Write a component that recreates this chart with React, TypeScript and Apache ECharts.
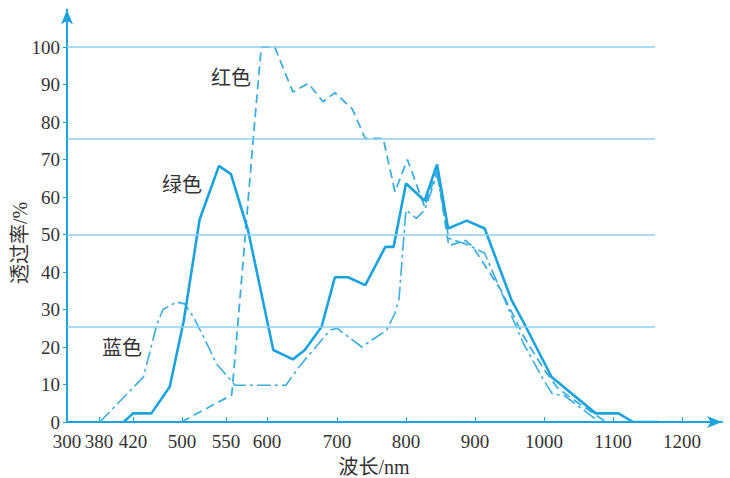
import React, { useEffect, useRef } from "react";
import * as echarts from "echarts";

// x tick labels (wavelength, nm) and their positions along the hand-drawn, non-uniform axis (px from y axis)
const X_TICKS = [300, 380, 420, 500, 550, 600, 700, 800, 900, 1000, 1100, 1200];
const X_TICK_OFFSETS = [0, 32, 66, 115, 159, 200, 270, 339, 408, 477, 546, 615];
const Y_TICKS = [0, 10, 20, 30, 40, 50, 60, 70, 80, 90, 100];
const REF_LINES = [100, 75.5, 50, 25.5];
const REF_LINE_END_WL = 1161;

// [wavelength nm, transmittance %]
const GREEN: [number, number][] = [
  [409, 0], [420, 2.3], [450, 2.3], [480, 9.4], [502, 27], [520, 54], [542, 68.3], [556, 66.1],
  [577, 51], [609, 19.2], [637, 16.7], [654, 19.2], [678, 25.4], [697, 38.6], [716, 38.6],
  [741, 36.5], [770, 46.7], [782, 46.7], [800, 63.6], [827, 59], [845, 68.7], [861, 51.6],
  [888, 53.7], [914, 51.6], [953, 32.5], [972, 26], [1011, 12], [1075, 2.3], [1108, 2.3],
  [1129, 0], [1165, 0],
];
const RED: [number, number][] = [
  [499, 0], [511, 1.5], [557, 7.2], [569, 38], [583, 75], [593, 100], [611, 100], [637, 88],
  [659, 90.3], [680, 85.4], [697, 87.8], [722, 83.5], [741, 75.6], [767, 75.6], [784, 61.4],
  [802, 70], [827, 57.4], [845, 67], [862, 47], [886, 48.4], [897, 46.7], [938, 35], [970, 23],
  [1000, 14], [1020, 9], [1050, 5], [1090, 0],
];
const BLUE: [number, number][] = [
  [381, 0], [437, 12], [459, 26], [469, 30], [491, 32], [503, 31.5], [513, 28], [526, 22],
  [539, 15.6], [561, 9.8], [627, 9.8], [647, 15], [690, 24.5], [700, 25], [736, 20], [772, 24.5],
  [784, 29], [790, 33], [795, 45], [800, 56.5], [815, 54.3], [827, 56.5], [845, 66], [862, 49],
  [886, 47.5], [914, 45], [970, 21], [1000, 11], [1012, 7.5], [1030, 7], [1080, 0],
];

function pos(wl: number): number {
  const n = X_TICKS.length;
  let i = 0;
  if (wl >= X_TICKS[n - 1]) i = n - 2;
  else {
    while (i < n - 2 && wl > X_TICKS[i + 1]) i++;
  }
  const a = X_TICKS[i], b = X_TICKS[i + 1];
  const pa = X_TICK_OFFSETS[i], pb = X_TICK_OFFSETS[i + 1];
  return pa + ((wl - a) / (b - a)) * (pb - pa);
}

const LINE_COLOR = "#1aa3dc";
const FONT = "'Liberation Serif', 'Noto Sans CJK SC', serif";

export default function App() {
  const ref = useRef<HTMLDivElement>(null);
  useEffect(() => {
    if (!ref.current) return;
    const chart = echarts.init(ref.current, undefined, { renderer: "svg" });
    const mk = (arr: [number, number][]) => arr.map(([w, v]) => [pos(w), v]);
    chart.setOption({
      animation: false,
      grid: { left: 67, right: 8, top: 9.5, bottom: 56 },
      xAxis: {
        type: "value",
        min: 0,
        max: 655,
        axisLine: {
          show: true,
          symbol: ["none", "arrow"],
          symbolSize: [9, 15],
          lineStyle: { color: LINE_COLOR, width: 2 },
        },
        axisTick: { show: true, inside: true, length: 5, customValues: X_TICK_OFFSETS, lineStyle: { color: LINE_COLOR } },
        axisLabel: {
          customValues: X_TICK_OFFSETS,
          margin: 10,
          color: "#333",
          fontFamily: FONT,
          fontSize: 19,
          formatter: (v: number) => {
            const i = X_TICK_OFFSETS.findIndex((p) => Math.abs(p - v) < 0.5);
            return i >= 0 ? String(X_TICKS[i]) : "";
          },
        },
        splitLine: { show: false },
      },
      yAxis: {
        type: "value",
        min: 0,
        max: 110,
        interval: 10,
        axisLine: {
          show: true,
          symbol: ["none", "arrow"],
          symbolSize: [9, 15],
          lineStyle: { color: LINE_COLOR, width: 2 },
        },
        axisTick: { show: true, inside: false, length: 4, customValues: Y_TICKS, lineStyle: { color: LINE_COLOR } },
        axisLabel: {
          customValues: Y_TICKS,
          margin: 7,
          color: "#333",
          fontFamily: FONT,
          fontSize: 19,
        },
        splitLine: { show: false },
      },
      graphic: [
        { type: "text", x: 231, y: 78, style: { text: "红色", font: "20px " + FONT, fill: "#333", align: "center", verticalAlign: "middle" } },
        { type: "text", x: 182, y: 185, style: { text: "绿色", font: "20px " + FONT, fill: "#333", align: "center", verticalAlign: "middle" } },
        { type: "text", x: 122, y: 348, style: { text: "蓝色", font: "20px " + FONT, fill: "#333", align: "center", verticalAlign: "middle" } },
        { type: "text", x: 374, y: 467, style: { text: "波长/nm", font: "20px " + FONT, fill: "#333", align: "center", verticalAlign: "middle" } },
        { type: "text", x: 20, y: 243, rotation: Math.PI / 2, style: { text: "透过率/%", font: "20px " + FONT, fill: "#333", align: "center", verticalAlign: "middle" } },
      ],
      series: [
        {
          name: "绿色",
          type: "line",
          data: mk(GREEN),
          symbol: "none",
          lineStyle: { color: LINE_COLOR, width: 2.6 },
          z: 4,
          markLine: {
            silent: true,
            symbol: "none",
            label: { show: false },
            lineStyle: { color: "#8dd0ee", width: 1.5, type: "solid" },
            data: REF_LINES.map((y) => [{ coord: [0, y] }, { coord: [pos(REF_LINE_END_WL), y] }]),
          },
        },
        {
          name: "红色",
          type: "line",
          data: mk(RED),
          symbol: "none",
          lineStyle: { color: "#3aaee0", width: 1.8, type: [9, 5] },
          z: 3,
        },
        {
          name: "蓝色",
          type: "line",
          data: mk(BLUE),
          symbol: "none",
          lineStyle: { color: "#3aaee0", width: 1.6, type: [14, 4, 3, 4] },
          z: 3,
        },
      ],
    });
    return () => chart.dispose();
  }, []);
  return <div ref={ref} style={{ position: "absolute", left: 0, top: 0, width: 730, height: 478 }} />;
}
